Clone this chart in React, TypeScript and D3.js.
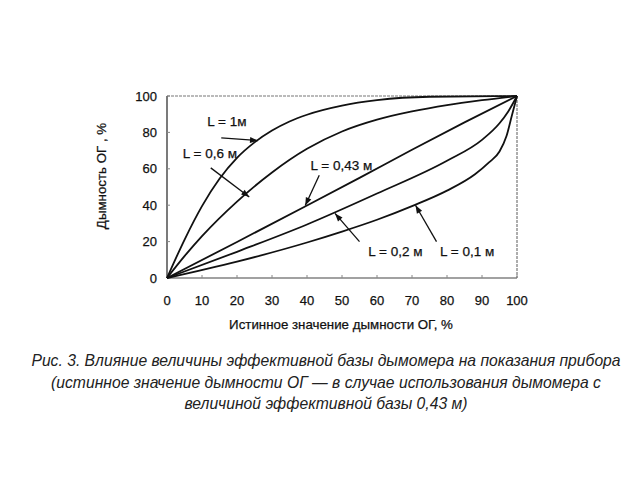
import React from "react";
import * as d3 from "d3";

const xTicks = [0, 10, 20, 30, 40, 50, 60, 70, 80, 90, 100];
const yTicks = [0, 20, 40, 60, 80, 100];

const l1X = [0, 5, 10, 15, 20, 25, 30, 35, 40, 50, 60, 75, 100];
const l1Y = [0, 21, 39.5, 54.5, 66, 74.5, 81, 86, 89.7, 94.7, 97.7, 99.6, 100];
const l06X = [0, 5, 10, 20, 30, 40, 50, 60, 70, 80, 90, 100];
const l06Y = [0, 12, 23, 42, 58, 71, 80.5, 87, 91.5, 95, 97.7, 100];
const l043X = [0, 20, 40, 55, 70, 85, 100];
const l043Y = [0, 19.8, 39.8, 55, 70.5, 85.5, 100];
const l02X = [0, 20, 40, 60, 80, 90, 95, 97.5, 100];
const l02Y = [0, 14.4, 29.4, 46.4, 64.4, 75.9, 85, 91.5, 100];
const l01X = [0, 20, 40, 50, 60, 70, 80, 88, 92, 95, 97, 98.5, 100];
const l01Y = [0, 9, 19.5, 25.5, 32, 39.5, 48, 57, 63.5, 69.5, 78, 89, 100];

const seriesX = [l1X, l06X, l043X, l02X, l01X];
const seriesY = [l1Y, l06Y, l043Y, l02Y, l01Y];

// label text, label anchor (data coords), arrow start (data), arrow tip (data)
const labelTexts = ["L = 1м", "L = 0,6 м", "L = 0,43 м", "L = 0,2 м", "L = 0,1 м"];
const labelPos = [[11.5, 83.5], [4.5, 66], [41, 59.5], [57.5, 12], [78, 12]];
const arrowFrom = [[15.5, 77], [12.5, 60.5], [43.5, 56.5], [55, 20], [77, 20]];
const arrowTo = [[26, 75.5], [23.5, 44.5], [39.5, 39.8], [48, 35.5], [71, 40]];

const captionLines = [
  "Рис. 3. Влияние величины эффективной базы дымомера на показания прибора",
  "(истинное значение дымности ОГ — в случае использования дымомера с",
  "величиной эффективной базы 0,43 м)",
];

export default function App() {
  const x = d3.scaleLinear().domain([0, 100]).range([167, 517]);
  const y = d3.scaleLinear().domain([0, 100]).range([278, 96]);
  const font = "'Liberation Sans', Arial, sans-serif";

  const paths = seriesX.map((xs, k) => {
    const pts: [number, number][] = xs.map((v, i) => [x(v), y(seriesY[k][i])]);
    return d3.line().curve(d3.curveMonotoneX)(pts) as string;
  });

  const arrowHead = (x1: number, y1: number, x2: number, y2: number) => {
    const a = Math.atan2(y2 - y1, x2 - x1);
    const len = 8;
    const w = 3;
    const bx = x2 - len * Math.cos(a);
    const by = y2 - len * Math.sin(a);
    const px = -Math.sin(a) * w;
    const py = Math.cos(a) * w;
    return `M${x2},${y2}L${bx + px},${by + py}L${bx - px},${by - py}Z`;
  };

  const txt = { fontFamily: font, fill: "#111", stroke: "#111", strokeWidth: 0.25 };

  return (
    <svg
      width={640}
      height={480}
      style={{ position: "absolute", left: 0, top: 0, background: "#fff" }}
    >
      <rect x={0} y={0} width={640} height={480} fill="#fff" />
      {/* frame */}
      <line x1={x(0)} x2={x(100)} y1={y(100)} y2={y(100)} stroke="#777" strokeWidth={1.2} strokeDasharray="3 1" />
      <line x1={x(100)} x2={x(100)} y1={y(100)} y2={y(0)} stroke="#777" strokeWidth={1.2} strokeDasharray="3 1" />
      <line x1={x(0)} x2={x(100)} y1={y(0)} y2={y(0)} stroke="#444" strokeWidth={1.2} />
      <line x1={x(0)} x2={x(0)} y1={y(100)} y2={y(0)} stroke="#333" strokeWidth={1.3} />
      {xTicks.map((t) => (
        <line key={"xt" + t} x1={x(t)} x2={x(t)} y1={y(0)} y2={y(0) - 3} stroke="#888" strokeWidth={1} />
      ))}
      {yTicks.map((t) => (
        <line key={"yt" + t} x1={x(0)} x2={x(0) + 3} y1={y(t)} y2={y(t)} stroke="#888" strokeWidth={1} />
      ))}
      {/* curves */}
      {paths.map((p, i) => (
        <path key={"c" + i} d={p} fill="none" stroke="#111" strokeWidth={1.8} />
      ))}
      {/* arrows */}
      {arrowFrom.map((f, i) => {
        const x1 = x(f[0]);
        const y1 = y(f[1]);
        const x2 = x(arrowTo[i][0]);
        const y2 = y(arrowTo[i][1]);
        return (
          <g key={"a" + i}>
            <line x1={x1} y1={y1} x2={x2} y2={y2} stroke="#111" strokeWidth={1.3} />
            <path d={arrowHead(x1, y1, x2, y2)} fill="#111" />
          </g>
        );
      })}
      {labelTexts.map((t, i) => (
        <text key={"l" + i} x={x(labelPos[i][0])} y={y(labelPos[i][1])} fontSize={13.5} {...txt}>
          {t}
        </text>
      ))}
      {/* tick labels */}
      {xTicks.map((t) => (
        <text key={"xl" + t} x={x(t)} y={304.5} textAnchor="middle" fontSize={13} {...txt}>
          {t}
        </text>
      ))}
      {yTicks.map((t) => (
        <text key={"yl" + t} x={157} y={y(t) + 4.5} textAnchor="end" fontSize={13} {...txt}>
          {t}
        </text>
      ))}
      <text x={341} y={328.5} textAnchor="middle" fontSize={13.3} {...txt}>
        Истинное значение дымности ОГ, %
      </text>
      <text transform="translate(106,176) rotate(-90)" textAnchor="middle" fontSize={13.3} {...txt}>
        Дымность ОГ , %
      </text>
      {captionLines.map((c, i) => (
        <text
          key={"cap" + i}
          x={326}
          y={366 + i * 21.5}
          textAnchor="middle"
          fontFamily={font}
          fontSize={15.7}
          fontStyle="italic"
          fill="#222"
        >
          {c}
        </text>
      ))}
    </svg>
  );
}
